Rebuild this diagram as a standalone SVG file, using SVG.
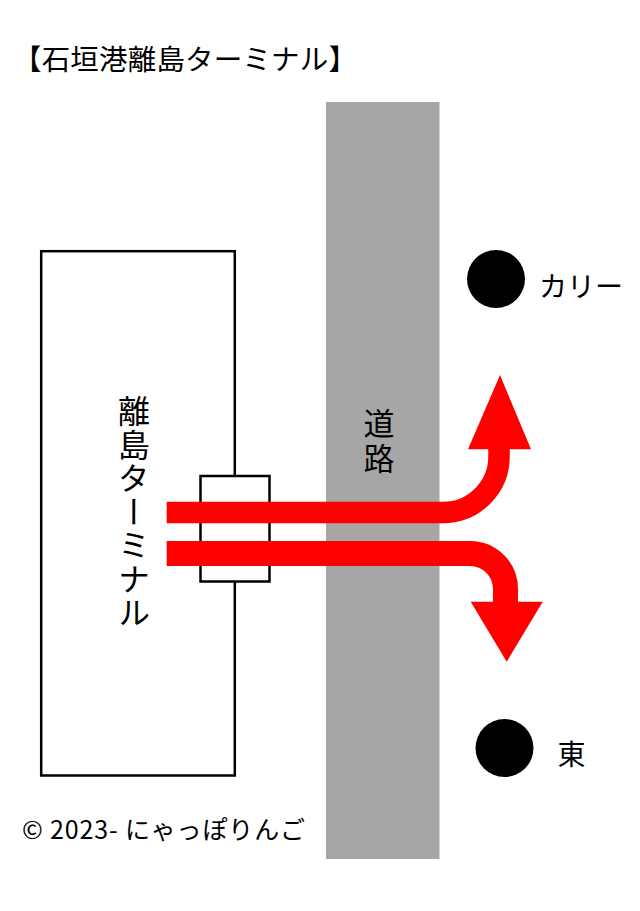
<svg xmlns="http://www.w3.org/2000/svg" width="640" height="911" viewBox="0 0 640 911">
<style>
.jp{font-family:"Noto Sans CJK JP","Noto Sans CJK SC",sans-serif;fill:#000}
.vert{writing-mode:vertical-rl}
.box{fill:#fff;stroke:#000;stroke-width:2.5}
.flow{fill:none;stroke:#ff0000}
.head{fill:#ff0000}
.dot{fill:#000}
</style>
<rect width="640" height="911" fill="#fff"/>
<text id="title" class="jp" x="13" y="70" font-size="28.5" textLength="344" lengthAdjust="spacing">【石垣港離島ターミナル】</text>
<g id="road">
<rect x="326" y="102" width="113.5" height="757" fill="#a6a6a6"/>
<text class="jp vert" x="379" y="408" font-size="31" letter-spacing="4">道路</text>
</g>
<g id="terminal">
<rect class="box" x="41.2" y="251.2" width="193.6" height="524.3"/>
<text class="jp vert" x="134" y="395" font-size="32" letter-spacing="1.5">離島ターミナル</text>
</g>
<g id="gate">
<rect class="box" x="200.5" y="476" width="69" height="105.5" stroke-width="2.3"/>
</g>
<g id="curry">
<circle class="dot" cx="496" cy="279" r="29"/>
<text class="jp" x="539" y="297" font-size="28">カリー</text>
</g>
<g id="east">
<circle class="dot" cx="504.5" cy="748" r="29"/>
<text class="jp" x="571.5" y="765" font-size="28" text-anchor="middle">東</text>
</g>
<g id="connectors">
<path class="flow" d="M166.7,512.5 H443 A56,56 0 0 0 499,456.5 V448" stroke-width="21.5"/>
<polygon class="head" points="468,449.3 531,449.3 500,375"/>
<path class="flow" d="M166.7,553.5 H470 A35.5,35.5 0 0 1 505.5,589 V603" stroke-width="25"/>
<polygon class="head" points="470.7,601.7 542.7,601.7 506.7,661.7"/>
</g>
<text id="copyright" class="jp" x="22" y="839" font-size="25" textLength="283" lengthAdjust="spacing">© 2023- にゃっぽりんご</text>
</svg>
